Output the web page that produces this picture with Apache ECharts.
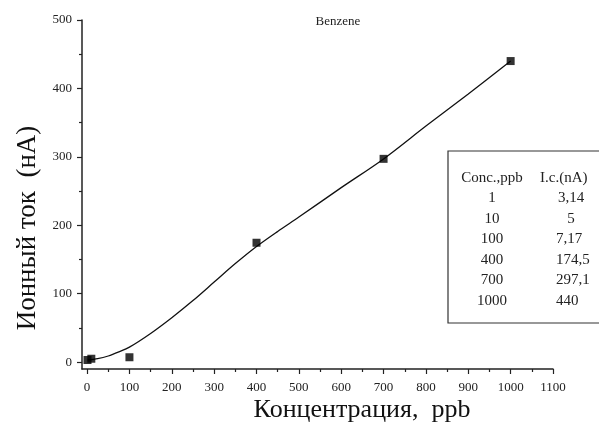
<!DOCTYPE html>
<html>
<head>
<meta charset="utf-8">
<script src="https://cdn.jsdelivr.net/npm/echarts@6/dist/echarts.min.js"></script>
<style>
  html, body { margin: 0; padding: 0; background: #fff; }
  #chart { width: 599px; height: 432px; }
</style>
</head>
<body>
<div id="chart"></div>
<script>
// Measured benzene calibration points
const concPpb = [1, 10, 100, 400, 700, 1000];
const currentNa = [3.14, 5, 7.17, 174.5, 297.1, 440];

// Fitted calibration curve, sampled along the concentration range
const fitX = [1, 25, 50, 75, 100, 150, 200, 250, 300, 350, 400, 450, 500, 600, 700, 800, 900, 1000];
const fitY = [3, 5, 9, 15, 22, 42, 65, 90, 117, 144, 169, 191, 212, 255, 297, 345, 392, 440];

// Axis ticks
const xMajorTicks = [0, 100, 200, 300, 400, 500, 600, 700, 800, 900, 1000, 1100];
const xMinorTicks = [50, 150, 250, 350, 450, 550, 650, 750, 850, 950, 1050];
const yMajorTicks = [0, 100, 200, 300, 400, 500];
const yMinorTicks = [50, 150, 250, 350, 450];

const chartTitle = 'Benzene';
const xTitle = 'Концентрация,  ppb';
const yTitle = 'Ионный ток  (нА)';
const tableHeader = ['Conc.,ppb', 'I.c.(nA)'];

const SERIF = '"Liberation Serif", "Times New Roman", serif';
const INK = '#222';

const chart = echarts.init(document.getElementById('chart'), null, { renderer: 'canvas' });

function fmt(v) { return String(v).replace('.', ','); }

function axisBase(extra) {
  return Object.assign({
    type: 'value',
    splitLine: { show: false },
    axisLine: { show: true, onZero: false, lineStyle: { color: INK, width: 1.5 } },
    axisTick: { show: true, length: 5, lineStyle: { color: INK, width: 1.2 } },
    axisLabel: { show: true, color: INK, fontFamily: SERIF, fontSize: 13 }
  }, extra);
}

function majorLabel(margin, values) {
  return {
    show: true, margin: margin, customValues: values,
    color: INK, fontFamily: SERIF, fontSize: 13,
    formatter: v => String(v)
  };
}

// Table of measured values, built from the data arrays
const rowY0 = 178, rowStep = 20.5;
const cellFont = '15px ' + SERIF;
const tableTexts = [
  { type: 'text', x: 492, y: rowY0, style: { text: tableHeader[0], font: cellFont, fill: INK, textAlign: 'center', textVerticalAlign: 'middle' } },
  { type: 'text', x: 540, y: rowY0, style: { text: tableHeader[1], font: cellFont, fill: INK, textAlign: 'left', textVerticalAlign: 'middle' } }
];
concPpb.forEach((c, i) => {
  const y = rowY0 + rowStep * (i + 1);
  tableTexts.push({ type: 'text', x: 492, y: y, style: { text: String(c), font: cellFont, fill: INK, textAlign: 'center', textVerticalAlign: 'middle' } });
  const s = fmt(currentNa[i]);
  const centered = i < 2;
  tableTexts.push({ type: 'text', x: centered ? 571 : 556, y: y, style: { text: s, font: cellFont, fill: INK, textAlign: centered ? 'center' : 'left', textVerticalAlign: 'middle' } });
});

const option = {
  backgroundColor: '#fff',
  animation: false,
  title: {
    text: chartTitle,
    left: 333, top: 10,
    textAlign: 'center',
    textStyle: { fontFamily: SERIF, fontSize: 13, fontWeight: 'normal', color: INK }
  },
  grid: { left: 82, right: 46, top: 20, bottom: 63, containLabel: false },
  xAxis: [
    axisBase({
      min: -12, max: 1100,
      axisTick: { show: true, length: 5, customValues: xMajorTicks, lineStyle: { color: INK, width: 1.2 } },
      axisLabel: majorLabel(12, xMajorTicks)
    }),
    axisBase({
      min: -12, max: 1100, position: 'bottom',
      axisLine: { show: false, onZero: false },
      axisTick: { show: true, length: 3, customValues: xMinorTicks, lineStyle: { color: INK, width: 1.2 } },
      axisLabel: { show: false }
    })
  ],
  yAxis: [
    axisBase({
      min: -10, max: 500,
      axisTick: { show: true, length: 5, customValues: yMajorTicks, lineStyle: { color: INK, width: 1.2 } },
      axisLabel: majorLabel(10, yMajorTicks)
    }),
    axisBase({
      min: -10, max: 500, position: 'left',
      axisLine: { show: false, onZero: false },
      axisTick: { show: true, length: 3, customValues: yMinorTicks, lineStyle: { color: INK, width: 1.2 } },
      axisLabel: { show: false }
    })
  ],
  series: [
    {
      name: 'fit',
      type: 'line',
      data: fitX.map((x, i) => [x, fitY[i]]),
      smooth: 0.3,
      showSymbol: false,
      lineStyle: { color: '#111', width: 1.3 },
      z: 2
    },
    {
      name: 'measured',
      type: 'scatter',
      data: concPpb.map((x, i) => [x, currentNa[i]]),
      symbol: 'rect',
      symbolSize: 8,
      itemStyle: { color: '#000' },
      z: 3
    }
  ],
  graphic: [
    {
      type: 'text', x: 362, y: 410,
      style: { text: xTitle, font: '26px ' + SERIF, fill: '#111', textAlign: 'center', textVerticalAlign: 'middle' }
    },
    {
      type: 'text', x: 28, y: 228, rotation: Math.PI / 2,
      style: { text: yTitle, font: '27px ' + SERIF, fill: '#111', textAlign: 'center', textVerticalAlign: 'middle' }
    },
    {
      type: 'rect',
      shape: { x: 448, y: 151, width: 170, height: 172 },
      style: { fill: 'rgba(0,0,0,0)', stroke: '#333', lineWidth: 1.2 }
    }
  ].concat(tableTexts)
};

chart.setOption(option);
</script>
</body>
</html>
